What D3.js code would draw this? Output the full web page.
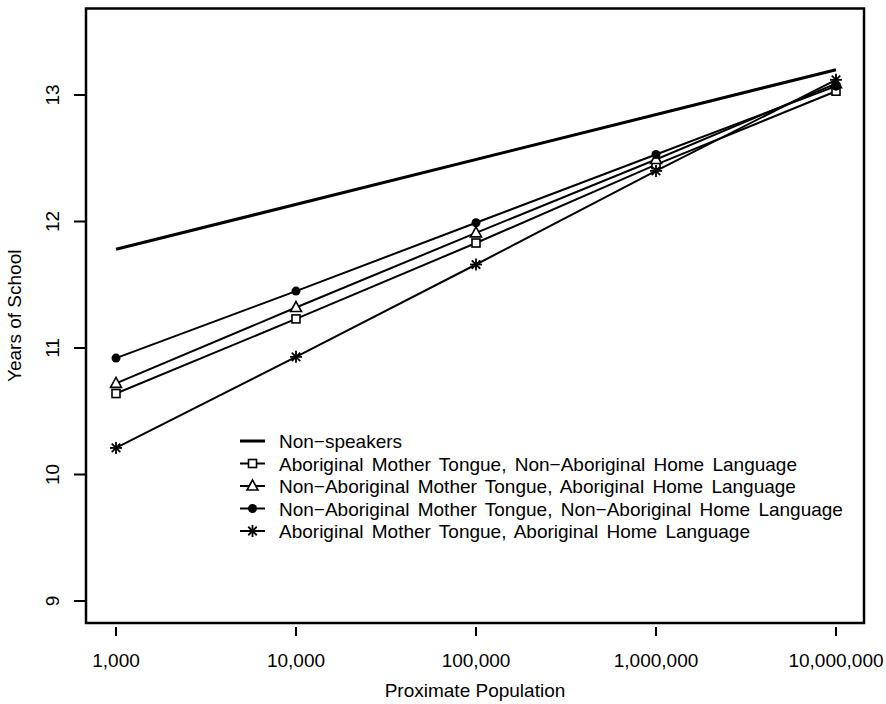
<!DOCTYPE html>
<html>
<head>
<meta charset="utf-8">
<script src="https://cdn.jsdelivr.net/npm/d3@7"></script>
<style>
  body { margin: 0; background: #fff; }
  svg { display: block; font-family: "Liberation Sans", Arial, sans-serif; }
</style>
</head>
<body>
<div id="chart"></div>
<script>
// Data
const populations = [1000, 10000, 100000, 1000000, 10000000];
const xTickLabels = ["1,000", "10,000", "100,000", "1,000,000", "10,000,000"];
const yTicks = [9, 10, 11, 12, 13];

const nonSpeakers = [11.78, 13.2]; // endpoints at 1,000 and 10,000,000
const abMotherNonAbHome = [10.64, 11.23, 11.83, 12.45, 13.03];
const nonAbMotherAbHome = [10.72, 11.32, 11.91, 12.49, 13.09];
const nonAbMotherNonAbHome = [10.92, 11.45, 11.99, 12.53, 13.07];
const abMotherAbHome = [10.21, 10.93, 11.66, 12.40, 13.12];

const legendLabels = [
  "Non\u2212speakers",
  "Aboriginal Mother Tongue, Non\u2212Aboriginal Home Language",
  "Non\u2212Aboriginal Mother Tongue, Aboriginal Home Language",
  "Non\u2212Aboriginal Mother Tongue, Non\u2212Aboriginal Home Language",
  "Aboriginal Mother Tongue, Aboriginal Home Language"
];

const width = 886, height = 704;
const fontSize = 19;

const x = d3.scaleLog().domain([1000, 10000000]).range([116, 836]);
const y = d3.scaleLinear().domain([9, 13]).range([601, 95]);

// plot box edges
const box = { left: 86, right: 864, top: 8.5, bottom: 623 };

const svg = d3.select("#chart").append("svg")
    .attr("width", width)
    .attr("height", height);

const line = d3.line()
    .x(d => x(d[0]))
    .y(d => y(d[1]));

const series = [
  { name: "square", values: abMotherNonAbHome },
  { name: "triangle", values: nonAbMotherAbHome },
  { name: "circle", values: nonAbMotherNonAbHome },
  { name: "asterisk", values: abMotherAbHome }
];

svg.append("path")
    .datum([[populations[0], nonSpeakers[0]], [populations[4], nonSpeakers[1]]])
    .attr("d", line)
    .attr("fill", "none")
    .attr("stroke", "#000")
    .attr("stroke-width", 3);

series.forEach(s => {
  svg.append("path")
      .datum(populations.map((p, i) => [p, s.values[i]]))
      .attr("d", line)
      .attr("fill", "none")
      .attr("stroke", "#000")
      .attr("stroke-width", 2);
});

// marker drawing
function drawMarker(g, type, cx, cy) {
  if (type === "square") {
    g.append("rect")
        .attr("x", cx - 4).attr("y", cy - 4)
        .attr("width", 8).attr("height", 8)
        .attr("fill", "#fff").attr("stroke", "#000").attr("stroke-width", 1.6);
  } else if (type === "triangle") {
    g.append("path")
        .attr("d", `M${cx},${cy - 6}L${cx + 5.5},${cy + 4}L${cx - 5.5},${cy + 4}Z`)
        .attr("fill", "#fff").attr("stroke", "#000").attr("stroke-width", 1.6);
  } else if (type === "circle") {
    g.append("circle")
        .attr("cx", cx).attr("cy", cy).attr("r", 4.5)
        .attr("fill", "#000");
  } else if (type === "asterisk") {
    const r = 6;
    for (let k = 0; k < 4; k++) {
      const a = k * Math.PI / 4;
      g.append("line")
          .attr("x1", cx - r * Math.cos(a)).attr("y1", cy - r * Math.sin(a))
          .attr("x2", cx + r * Math.cos(a)).attr("y2", cy + r * Math.sin(a))
          .attr("stroke", "#000").attr("stroke-width", 1.8);
    }
  }
}

series.forEach(s => {
  const g = svg.append("g");
  populations.forEach((p, i) => drawMarker(g, s.name, x(p), y(s.values[i])));
});

// box
svg.append("rect")
    .attr("x", box.left).attr("y", box.top)
    .attr("width", box.right - box.left).attr("height", box.bottom - box.top)
    .attr("fill", "none").attr("stroke", "#000").attr("stroke-width", 2.5);

// y axis ticks and labels
const yAxis = svg.append("g");
yTicks.forEach(t => {
  yAxis.append("line")
      .attr("x1", 74).attr("x2", box.left)
      .attr("y1", y(t)).attr("y2", y(t))
      .attr("stroke", "#000").attr("stroke-width", 2);
  yAxis.append("text")
      .attr("transform", `translate(59,${y(t)}) rotate(-90)`)
      .attr("text-anchor", "middle")
      .attr("font-size", fontSize)
      .text(t);
});

// x axis ticks and labels
const xAxis = svg.append("g");
populations.forEach((p, i) => {
  xAxis.append("line")
      .attr("x1", x(p)).attr("x2", x(p))
      .attr("y1", 627).attr("y2", 636)
      .attr("stroke", "#000").attr("stroke-width", 2);
  xAxis.append("text")
      .attr("x", x(p)).attr("y", 667)
      .attr("text-anchor", "middle")
      .attr("font-size", fontSize)
      .text(xTickLabels[i]);
});

// axis titles
svg.append("text")
    .attr("x", (box.left + box.right) / 2).attr("y", 697)
    .attr("text-anchor", "middle")
    .attr("font-size", fontSize)
    .text("Proximate Population");

svg.append("text")
    .attr("transform", `translate(21,${(box.top + box.bottom) / 2}) rotate(-90)`)
    .attr("text-anchor", "middle")
    .attr("font-size", fontSize)
    .text("Years of School");

// legend
const legendTypes = ["line", "square", "triangle", "circle", "asterisk"];
const legend = svg.append("g");
legendTypes.forEach((t, i) => {
  const ly = 441 + i * 22.5;
  legend.append("line")
      .attr("x1", 240).attr("x2", 265)
      .attr("y1", ly).attr("y2", ly)
      .attr("stroke", "#000").attr("stroke-width", t === "line" ? 3 : 2);
  if (t !== "line") drawMarker(legend, t, 252.5, ly);
  legend.append("text")
      .attr("x", 279).attr("y", ly + 7)
      .attr("font-size", fontSize)
      .attr("word-spacing", 3)
      .text(legendLabels[i]);
});
</script>
</body>
</html>
